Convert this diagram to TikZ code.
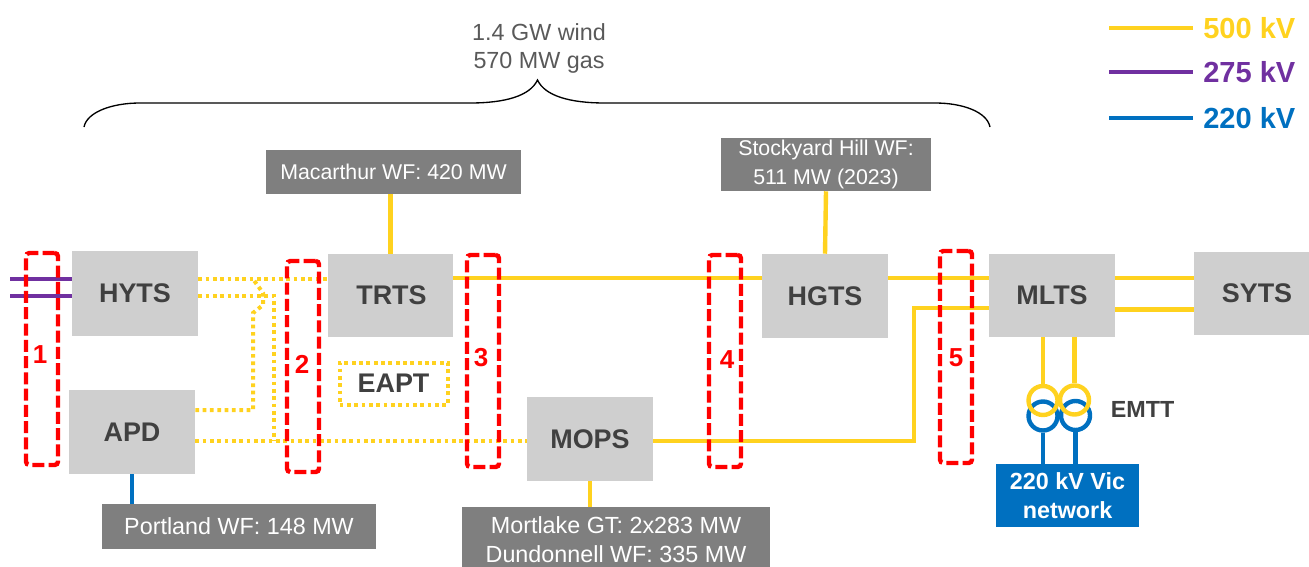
\documentclass[tikz,border=0pt]{standalone}
\usepackage{fontspec}
\setmainfont{Liberation Sans}
\definecolor{yel}{HTML}{FFD21F}
\definecolor{pur}{HTML}{7030A0}
\definecolor{blu}{HTML}{0070C0}
\definecolor{boxg}{HTML}{CFCFCF}
\definecolor{labg}{HTML}{7F7F7F}
\definecolor{txt}{HTML}{404040}
\definecolor{txtl}{HTML}{595959}
\newcommand{\fs}[1]{\fontsize{#1}{#1}\selectfont}
\tikzset{
  x=0.75pt,y=-0.75pt,
  sta/.style={fill=boxg,draw=none,inner sep=0pt,text=txt,font=\fs{20.2}\bfseries},
  wf/.style={fill=labg,draw=none,inner sep=0pt,text=white,align=center,font=\fontsize{16}{21.8}\selectfont},
  wfb/.style={wf,font=\fontsize{17.5}{21.8}\selectfont},
  y5/.style={draw=yel,line width=3.3pt},
  yd/.style={draw=yel,line width=3pt,dash pattern=on 2.8pt off 2.7pt},
  b2/.style={draw=blu,line width=3.3pt},
  p2/.style={draw=pur,line width=3.3pt},
  cut/.style={draw=red,line width=3.3pt,dash pattern=on 9pt off 3.2pt,rounded corners=2.5pt,inner sep=0pt,fill=none},
  num/.style={text=red,inner sep=0pt,font=\fs{19.5}\bfseries},
  leg/.style={inner sep=0pt,font=\fs{21.8}\bfseries,anchor=west},
}
\newcommand{\bx}[5]{\node[#1,minimum width=#4*0.75pt,minimum height=#5*0.75pt] (#2) at (#3) }
\begin{document}
\begin{tikzpicture}
\useasboundingbox (0,0) rectangle (1309,567);
\clip (0,0) rectangle (1309,567);
% levels
\coordinate (L279) at (0,279);
\coordinate (L296) at (0,296);
\coordinate (L308) at (0,308);
\coordinate (L310) at (0,309.5);
\coordinate (L278) at (0,278);
\coordinate (L410) at (0,410);
\coordinate (L441) at (0,441);
\coordinate (X253) at (253,0);
\coordinate (X274) at (274,0);
\coordinate (X914) at (914,0);
\coordinate (P1) at (10,0);
% stations
\bx{sta}{hyts}{135,293.5}{126}{85}{HYTS};
\bx{sta}{apd}{132,432}{126}{84}{APD};
\bx{sta}{trts}{390.5,295.5}{125}{83}{\hspace*{1.5pt}TRTS};
\bx{sta}{hgts}{825,296}{126}{84}{HGTS};
\bx{sta}{mops}{590,439}{126}{84}{MOPS};
\bx{sta}{mlts}{1052,295.5}{126}{83}{MLTS};
\bx{sta}{syts}{1257,293.5}{126}{83}{SYTS};
% labels
\bx{wf}{mac}{393.5,172}{255}{44}{Macarthur WF: 420 MW};
\bx{wf}{sto}{826,164.5}{210}{53}{Stockyard Hill WF:\\511 MW (2023)};
\bx{wfb}{por}{239,526.5}{274}{45}{Portland WF: 148 MW};
\bx{wfb}{mor}{616,540}{308}{66}{Mortlake GT: 2x283 MW\\Dundonnell WF: 335 MW};
\bx{wf,fill=blu,font=\fontsize{17.5}{21.8}\selectfont\bfseries}{vic}{1067.5,495.5}{143}{63}{220 kV Vic\\network};
% solid connectors
\draw[y5] (trts.north) -- (trts.north |- mac.south);
\draw[y5] (hgts.north) -- (sto.south);
\draw[y5] (mops.south) -- (mops.south |- mor.north);
\draw[y5] (trts.east |- L278) -- (hgts.west |- L278);
\draw[y5] (hgts.east |- L278) -- (mlts.west |- L278);
\draw[y5] (mlts.east |- L278) -- (syts.west |- L278);
\draw[y5] (mlts.east |- L310) -- (syts.west |- L310);
\draw[y5] (mops.east |- L441) -- (X914 |- L441) -- (X914 |- L308) -- (mlts.west |- L308);
\draw[b2] (apd.south) -- (apd.south |- por.north);
\draw[p2] (P1 |- L279) -- (hyts.west |- L279);
\draw[p2] (P1 |- L296) -- (hyts.west |- L296);
% dotted connectors
\draw[yd] (hyts.east |- L279) -- (trts.west |- L279);
\draw[yd] (hyts.east |- L296) -- (X274 |- L296) -- (X274 |- L441);
\draw[yd] (apd.east |- L441) -- (mops.west |- L441);
\draw[yd] (apd.east |- L410) -- (X253 |- L410) -- (253,313) -- (263,305) -- (263,293) -- (253,279);
% EAPT
\node[yd,inner sep=0pt,minimum width=108*0.75pt,minimum height=42*0.75pt,text=txt,font=\fs{20.2}\bfseries] (eapt) at (393.5,383.5) {EAPT};
% transformers
\node[draw=blu,line width=3.3pt,circle,inner sep=0pt,minimum size=29*0.75pt] (bt1) at (1043,416) {};
\node[draw=blu,line width=3.3pt,circle,inner sep=0pt,minimum size=29*0.75pt] (bt2) at (1075.5,415.5) {};
\node[draw=yel,line width=3.3pt,circle,inner sep=0pt,minimum size=29*0.75pt] (yt1) at (1043,400.5) {};
\node[draw=yel,line width=3.3pt,circle,inner sep=0pt,minimum size=29*0.75pt] (yt2) at (1074.5,400) {};
\draw[y5] (mlts.south -| yt1) -- (yt1.north);
\draw[y5] (mlts.south -| yt2) -- (yt2.north);
\draw[b2] (bt1.south) -- (bt1.south |- vic.north);
\draw[b2] (bt2.south) -- (bt2.south |- vic.north);
\node[inner sep=0pt,text=txt,font=\fs{17.5}\bfseries] (emtt) at (1142.5,409) {EMTT};
% cut sets
\node[cut,minimum width=32*0.75pt,minimum height=212*0.75pt] (c1) at (42,359) {};
\node[cut,minimum width=32*0.75pt,minimum height=211*0.75pt] (c2) at (303,366.5) {};
\node[cut,minimum width=32*0.75pt,minimum height=212*0.75pt] (c3) at (483,361) {};
\node[cut,minimum width=32*0.75pt,minimum height=212*0.75pt] (c4) at (725,361) {};
\node[cut,minimum width=32*0.75pt,minimum height=212*0.75pt] (c5) at (956,357) {};
\node[num] (n1) at (40,355) {1};
\node[num] (n2) at (302,364) {2};
\node[num] (n3) at (481,358) {3};
\node[num] (n4) at (727,360) {4};
\node[num] (n5) at (956,358) {5};
% brace
\coordinate (bl) at (84,127);
\coordinate (br) at (990,127);
\coordinate (bt) at (537.5,80);
\draw[line width=1pt,black] (bl) .. controls (87,112) and (112,103) .. (140,103) -- (470,103) .. controls (505,103) and (530,96) .. (bt) .. controls (545,96) and (570,103) .. (605,103) -- (935,103) .. controls (963,103) and (987,112) .. (br);
\node[inner sep=0pt,align=center,text=txtl,font=\fontsize{17.5}{21}\selectfont] (tot) at (539,48) {1.4 GW wind\\570 MW gas};
% legend
\node[leg,text=yel] (l5) at (1203,28) {500 kV};
\node[leg,text=pur] (l2) at (1203,72) {275 kV};
\node[leg,text=blu] (l3) at (1203,118) {220 kV};
\coordinate (ls5) at (1109,28);
\coordinate (ls2) at (1109,72);
\coordinate (ls3) at (1109,118);
\coordinate (le) at (1193,0);
\draw[y5] (ls5) -- (le |- l5.west);
\draw[p2] (ls2) -- (le |- l2.west);
\draw[b2] (ls3) -- (le |- l3.west);
\end{tikzpicture}
\end{document}
